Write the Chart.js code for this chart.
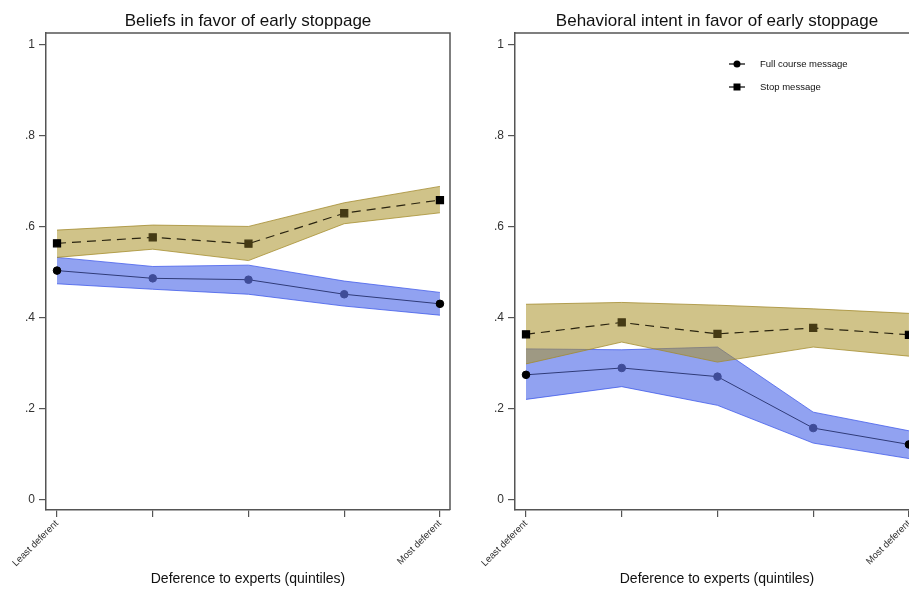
<!DOCTYPE html>
<html>
<head>
<meta charset="utf-8">
<script src="https://cdn.jsdelivr.net/npm/chart.js@4"></script>
<style>
  html, body { margin: 0; padding: 0; background: #fff; overflow: hidden; }
  #wrap { position: relative; width: 909px; height: 590px; overflow: hidden; }
  canvas { position: absolute; top: 0; }
  #beliefs { left: 0; }
  #intent { left: 469px; }
</style>
</head>
<body>
<div id="wrap">
  <canvas id="beliefs" width="460" height="590"></canvas>
  <canvas id="intent" width="460" height="590"></canvas>
</div>
<script>
// ===== data =====
const quintiles = [1, 2, 3, 4, 5];
const xLabels = ['Least deferent', '', '', '', 'Most deferent'];
const yTicks = [0, 0.2, 0.4, 0.6, 0.8, 1];

// Beliefs in favor of early stoppage
const beliefsFull   = [0.504, 0.487, 0.484, 0.452, 0.431];
const beliefsFullLo = [0.475, 0.463, 0.452, 0.426, 0.406];
const beliefsFullHi = [0.533, 0.513, 0.516, 0.481, 0.456];
const beliefsStop   = [0.564, 0.577, 0.563, 0.630, 0.659];
const beliefsStopLo = [0.533, 0.551, 0.526, 0.607, 0.631];
const beliefsStopHi = [0.593, 0.604, 0.601, 0.653, 0.689];

// Behavioral intent in favor of early stoppage
const intentFull   = [0.275, 0.290, 0.271, 0.158, 0.122];
const intentFullLo = [0.221, 0.249, 0.208, 0.125, 0.091];
const intentFullHi = [0.332, 0.330, 0.336, 0.193, 0.152];
const intentStop   = [0.364, 0.390, 0.365, 0.378, 0.363];
const intentStopLo = [0.299, 0.347, 0.303, 0.336, 0.316];
const intentStopHi = [0.430, 0.434, 0.428, 0.420, 0.410];

const seriesNames = ['Full course message', 'Stop message'];

// ===== styles =====
const FONT = '"Liberation Sans", Arial, Helvetica, sans-serif';
const AXIS = '#555';
const BLUE_FILL = 'rgba(55,85,230,0.55)';
const BLUE_EDGE = 'rgba(70,95,235,0.8)';
const GOLD_FILL = 'rgba(170,145,40,0.55)';
const GOLD_EDGE = 'rgba(160,135,40,0.75)';
const FULL_LINE = '#2f3a78';
const FULL_PT = '#3f4c98';
const STOP_LINE = '#2a2410';
const STOP_PT = '#453a14';

const pts = arr => arr.map((v, i) => ({ x: quintiles[i], y: v }));
const endBlack = (c) => quintiles.map((_, i) => (i === 0 || i === quintiles.length - 1) ? '#000' : c);

function band(hi, lo, fill, edge, order) {
  return [
    { data: pts(hi), borderColor: edge, borderWidth: 1, backgroundColor: fill,
      fill: '+1', pointRadius: 0, tension: 0, order },
    { data: pts(lo), borderColor: edge, borderWidth: 1, backgroundColor: fill,
      fill: false, pointRadius: 0, tension: 0, order }
  ];
}

// title centred over the plot area
const titlePlugin = {
  id: 'panelTitle',
  afterDraw(chart, args, opts) {
    const { ctx, chartArea } = chart;
    ctx.save();
    ctx.font = '17px ' + FONT;
    ctx.fillStyle = '#111';
    ctx.textAlign = 'center';
    ctx.textBaseline = 'middle';
    ctx.fillText(opts.text, (chartArea.left + chartArea.right) / 2, 21);
    ctx.restore();
  }
};

// top and right frame lines
const framePlugin = {
  id: 'frame',
  afterDraw(chart) {
    const { ctx, chartArea: a } = chart;
    ctx.save();
    ctx.strokeStyle = AXIS;
    ctx.lineWidth = 1.5;
    ctx.beginPath();
    ctx.moveTo(a.left, a.top);
    ctx.lineTo(a.right, a.top);
    ctx.lineTo(a.right, a.bottom);
    ctx.stroke();
    ctx.restore();
  }
};

// legend drawn inside the plot
const legendPlugin = {
  id: 'innerLegend',
  afterDraw(chart, args, opts) {
    if (!opts.show) return;
    const { ctx } = chart;
    const mx = 268, tx = 291, rows = [64, 87];
    ctx.save();
    ctx.font = '9.5px ' + FONT;
    ctx.fillStyle = '#111';
    ctx.textBaseline = 'middle';
    rows.forEach((y, i) => {
      ctx.strokeStyle = '#000';
      ctx.lineWidth = 1.2;
      ctx.beginPath();
      ctx.moveTo(mx - 8, y);
      ctx.lineTo(mx + 8, y);
      ctx.stroke();
      ctx.fillStyle = '#000';
      ctx.beginPath();
      if (i === 0) ctx.arc(mx, y, 3.5, 0, Math.PI * 2);
      else ctx.rect(mx - 3.5, y - 3.5, 7, 7);
      ctx.fill();
      ctx.fillStyle = '#111';
      ctx.fillText(seriesNames[i], tx, y);
    });
    ctx.restore();
  }
};

function makePanel(id, title, full, fullLo, fullHi, stop, stopLo, stopHi, showLegend) {
  const datasets = [
    ...band(fullHi, fullLo, BLUE_FILL, BLUE_EDGE, 4),
    ...band(stopHi, stopLo, GOLD_FILL, GOLD_EDGE, 3),
    { label: seriesNames[0], data: pts(full), borderColor: FULL_LINE, borderWidth: 1,
      pointStyle: 'circle', pointRadius: 3.8, pointBackgroundColor: endBlack(FULL_PT),
      pointBorderColor: endBlack(FULL_PT), fill: false, tension: 0, order: 1 },
    { label: seriesNames[1], data: pts(stop), borderColor: STOP_LINE, borderWidth: 1.2,
      borderDash: [9, 6], pointStyle: 'rect', pointRadius: 5, pointBackgroundColor: endBlack(STOP_PT),
      pointBorderColor: endBlack(STOP_PT), fill: false, tension: 0, order: 0 }
  ];

  return new Chart(document.getElementById(id), {
    type: 'line',
    data: { datasets },
    options: {
      responsive: false,
      animation: false,
      layout: { padding: { left: 0, right: 10, top: 33, bottom: 0 } },
      plugins: {
        legend: { display: false },
        tooltip: { enabled: false },
        panelTitle: { text: title },
        innerLegend: { show: showLegend }
      },
      scales: {
        x: {
          type: 'linear',
          min: 0.885,
          max: 5.105,
          afterBuildTicks: s => { s.ticks = quintiles.map(v => ({ value: v })); },
          afterFit: s => { s.height = 80; },
          ticks: {
            autoSkip: false,
            minRotation: 45,
            maxRotation: 45,
            padding: 1,
            color: '#333',
            font: { family: FONT, size: 9.5 },
            callback: v => xLabels[quintiles.indexOf(v)] ?? ''
          },
          grid: { drawOnChartArea: false, drawTicks: true, tickLength: 7, color: AXIS, lineWidth: 1.2 },
          border: { display: true, color: AXIS, width: 1.5 },
          title: {
            display: true,
            text: 'Deference to experts (quintiles)',
            color: '#111',
            font: { family: FONT, size: 14 },
            padding: { top: 0, bottom: 2 }
          }
        },
        y: {
          min: -0.022,
          max: 1.026,
          afterBuildTicks: s => { s.ticks = yTicks.map(v => ({ value: v })); },
          afterFit: s => { s.width = 46; },
          ticks: {
            padding: 4,
            color: '#333',
            font: { family: FONT, size: 12 },
            callback: v => (v === 0 || v === 1) ? String(v) : String(v).replace(/^0/, '')
          },
          grid: { drawOnChartArea: false, drawTicks: true, tickLength: 7, color: AXIS, lineWidth: 1.2 },
          border: { display: true, color: AXIS, width: 1.5 }
        }
      }
    },
    plugins: [titlePlugin, framePlugin, legendPlugin]
  });
}

makePanel('beliefs', 'Beliefs in favor of early stoppage',
  beliefsFull, beliefsFullLo, beliefsFullHi, beliefsStop, beliefsStopLo, beliefsStopHi, false);
makePanel('intent', 'Behavioral intent in favor of early stoppage',
  intentFull, intentFullLo, intentFullHi, intentStop, intentStopLo, intentStopHi, true);
</script>
</body>
</html>
